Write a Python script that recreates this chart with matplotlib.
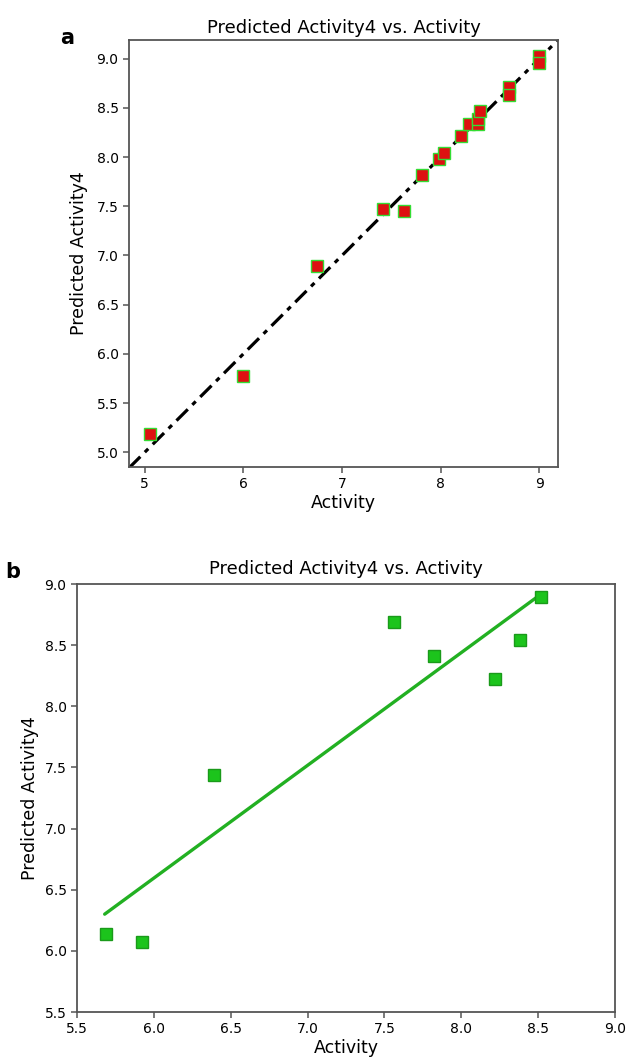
import numpy as np
import matplotlib
matplotlib.use("Agg")
import matplotlib.pyplot as plt

# Panel a: actual vs predicted (training set)
atividade_a = [5.05, 6.00, 6.75, 7.42, 7.63, 7.81, 7.98, 8.03, 8.21, 8.29, 8.38, 8.38, 8.40,
               8.69, 8.69, 9.00, 9.00]
predito_a = [5.19, 5.77, 6.89, 7.47, 7.45, 7.82, 7.98, 8.04, 8.21, 8.34, 8.34, 8.39, 8.47,
             8.71, 8.63, 9.03, 8.96]
diag_a = [4.84, 9.19]

# Panel b: actual vs predicted (test set)
atividade_b = [5.69, 5.92, 6.39, 7.56, 7.82, 8.22, 8.38, 8.52]
predito_b = [6.14, 6.07, 7.44, 8.69, 8.41, 8.22, 8.54, 8.89]
reta_x = [5.68, 8.50]
reta_y = [6.30, 8.90]

titulo = "Predicted Activity4 vs. Activity"

plt.rcParams['font.family'] = ['DejaVu Sans']
fig = plt.figure(figsize=(6.28, 10.63), dpi=100)
W, H = 628, 1063

def eixo(l, t, r, b):
    return fig.add_axes([l / W, 1 - b / H, (r - l) / W, (b - t) / H])

# ---- painel a
ax1 = eixo(129, 40, 558, 467)
ax1.plot(diag_a, diag_a, color='black', linestyle=(0, (5, 2, 1.5, 2)), linewidth=2.3, zorder=2)
ax1.plot(atividade_a, predito_a, linestyle='none', marker='s', markersize=8.5,
         markerfacecolor='#dd1111', markeredgecolor='#33dd33', markeredgewidth=1.0, zorder=3)
ax1.set_xlim(4.84, 9.19)
ax1.set_ylim(4.85, 9.19)
ax1.set_xticks([5, 6, 7, 8, 9])
ax1.set_yticks([5.0, 5.5, 6.0, 6.5, 7.0, 7.5, 8.0, 8.5, 9.0])
ax1.set_yticklabels(['5.0', '5.5', '6.0', '6.5', '7.0', '7.5', '8.0', '8.5', '9.0'])
ax1.set_title(titulo, fontsize=13, pad=5)
ax1.set_xlabel("Activity", fontsize=12.5, labelpad=2)
ax1.set_ylabel("Predicted Activity4", fontsize=12.5, labelpad=6)
fig.text(60 / W, 1 - 38 / H, "a", fontsize=15, fontweight='bold', va='center')

# ---- painel b
ax2 = eixo(77, 584, 615, 1012)
ax2.plot(reta_x, reta_y, color='#22b022', linewidth=2.4, solid_capstyle='round', zorder=2)
ax2.plot(atividade_b, predito_b, linestyle='none', marker='s', markersize=8.5,
         markerfacecolor='#1cc41c', markeredgecolor='#1a9a1a', markeredgewidth=1.0,
         zorder=3)
ax2.set_xlim(5.5, 9.0)
ax2.set_ylim(5.5, 9.0)
ax2.set_xticks(np.arange(5.5, 9.01, 0.5))
ax2.set_yticks(np.arange(5.5, 9.01, 0.5))
ax2.xaxis.set_major_formatter(matplotlib.ticker.FormatStrFormatter('%.1f'))
ax2.yaxis.set_major_formatter(matplotlib.ticker.FormatStrFormatter('%.1f'))
ax2.set_title(titulo, fontsize=13, pad=7)
ax2.set_xlabel("Activity", fontsize=12.5, labelpad=2)
ax2.set_ylabel("Predicted Activity4", fontsize=12.5, labelpad=4)
fig.text(5 / W, 1 - 572 / H, "b", fontsize=15, fontweight='bold', va='center')

for ax in (ax1, ax2):
    for s in ax.spines.values():
        s.set_color('#555555')
        s.set_linewidth(1.3)
    ax.tick_params(direction='out', length=4, width=1.1, color='#555555', labelsize=10)

fig.savefig("out.png", dpi=100)
